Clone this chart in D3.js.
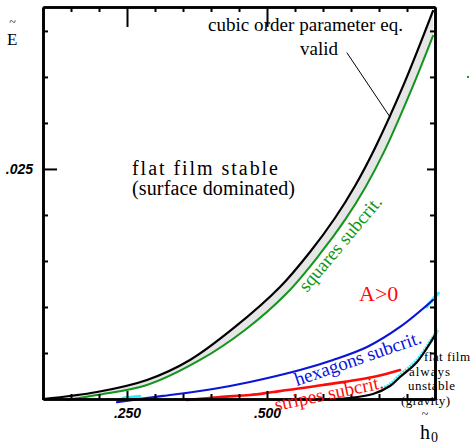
<!DOCTYPE html>
<html>
<head>
<meta charset="utf-8">
<script src="https://cdn.jsdelivr.net/npm/d3@7"></script>
<style>
  body { margin: 0; background: #fff; }
  svg { display: block; }
</style>
</head>
<body>
<script>
// film thickness h0 vs E
var validH = [0.1, 0.1964, 0.2857, 0.3625, 0.4429, 0.5232, 0.5768, 0.6214, 0.6571, 0.6929, 0.7446, 0.7964];
var validE = [0, 0.00076, 0.00207, 0.00424, 0.00783, 0.01217, 0.01598, 0.01967, 0.02315, 0.02728, 0.03424, 0.04217];

var squaresH = [0.1429, 0.1964, 0.2857, 0.3804, 0.4607, 0.5357, 0.5946, 0.6393, 0.675, 0.7107, 0.7607, 0.7964];
var squaresE = [-0.0001, 0.00043, 0.00152, 0.00424, 0.0075, 0.01152, 0.01576, 0.01946, 0.02293, 0.02707, 0.03402, 0.03946];

var hexH = [0.2321, 0.3143, 0.4036, 0.4696, 0.5589, 0.6179, 0.6786, 0.7375, 0.7964];
var hexE = [-0.00033, 0.00033, 0.00109, 0.00185, 0.00315, 0.00424, 0.00565, 0.00783, 0.01076];

var stripesH = [0.3571, 0.4161, 0.4696, 0.5107, 0.6, 0.6893, 0.7375];
var stripesE = [-0.0001, 0.00022, 0.00043, 0.00076, 0.00152, 0.00239, 0.00315];

var gravityH = [0.6125, 0.6482, 0.6893, 0.7196, 0.7375, 0.7679, 0.8];
var gravityE = [0, 0.00011, 0.00054, 0.00141, 0.00239, 0.00402, 0.00696];

// cyan bits that peek out under the other curves
var cyanAH = [0.705, 0.7196, 0.7375, 0.7679, 0.805];
var cyanAE = [0.0011, 0.00158, 0.00258, 0.00422, 0.0075];
var cyanBH = [0.785, 0.8, 0.806];
var cyanBE = [0.0100, 0.0111, 0.0115];
var cyanCH = [0.243, 0.273];
var cyanCE = [0.00012, 0.0003];

var pointerH = [0.6429, 0.7196];
var pointerE = [0.03761, 0.03065];

var strayH = [0.859];
var strayE = [0.035];

var hMinor = [0.15, 0.2, 0.3, 0.35, 0.4, 0.45, 0.55, 0.6, 0.65, 0.7, 0.75];
var hMajor = [0.25, 0.5];
var eMinor = [0.005, 0.01, 0.015, 0.02, 0.03, 0.035, 0.04];
var eMajor = [0.025];

window.onload = function() {
	var svg = d3.select("body").append("svg")
		.attr("width", 472)
		.attr("height", 444);

	var x = d3.scaleLinear().domain([0.1, 0.8]).range([43, 435]);
	var y = d3.scaleLinear().domain([0, 0.0426]).range([399, 7]);

	var line = d3.line()
		.x(function(d) { return x(d[0]); })
		.y(function(d) { return y(d[1]); })
		.curve(d3.curveCatmullRom.alpha(0.5));

	function pts(hs, es) {
		return hs.map(function(h, i) { return [h, es[i]]; });
	}

	// shaded band between validity limit and squares line
	var band = line(pts(validH, validE)) +
		line(pts(squaresH, squaresE).reverse()).replace(/^M/, "L") + "Z";
	svg.append("path").attr("d", band).attr("fill", "#e6e6e6").attr("stroke", "none");

	function curve(hs, es, color, width, dash) {
		svg.append("path")
			.attr("d", line(pts(hs, es)))
			.attr("fill", "none")
			.attr("stroke", color)
			.attr("stroke-width", width)
			.attr("stroke-dasharray", dash || null)
			.attr("stroke-linecap", dash ? "butt" : "round");
	}

	curve(cyanAH, cyanAE, "#30eefa", 3.5, "2,1");
	curve(cyanBH, cyanBE, "#30eefa", 3);
	curve(cyanCH, cyanCE, "#30eefa", 3);
	curve(squaresH, squaresE, "#10961a", 2);
	curve(validH, validE, "#000", 2.2);
	curve(hexH, hexE, "#0a14d8", 2.2);
	curve(stripesH, stripesE, "#ff0a0a", 2.6);
	curve(gravityH, gravityE, "#000", 2.2);
	curve(pointerH, pointerE, "#000", 1);

	svg.append("rect")
		.attr("x", x(strayH[0]) - 1).attr("y", y(strayE[0]) - 1)
		.attr("width", 2).attr("height", 2)
		.attr("fill", "#10961a");

	// frame with ticks on all four sides, pointing inwards
	var fmt = function(d) { return d3.format(".3f")(d).replace(/^0/, ""); };

	function axis(gen, tr, values, size, labels) {
		var g = svg.append("g")
			.attr("transform", tr)
			.call(gen.tickValues(values).tickSize(size).tickSizeOuter(0)
				.tickPadding(labels ? 9 : 0)
				.tickFormat(labels ? fmt : ""));
		g.select(".domain").attr("stroke-width", 2.6);
		g.selectAll(".tick line").attr("stroke-width", 2);
		g.attr("font-family", "Liberation Sans")
			.attr("font-size", 14)
			.attr("font-weight", "bold")
			.attr("font-style", "italic");
		return g;
	}

	axis(d3.axisBottom(x), "translate(0,399)", hMinor, -5, false);
	axis(d3.axisBottom(x), "translate(0,399)", hMajor, -8, true);
	axis(d3.axisTop(x), "translate(0,7)", hMinor, -5, false);
	axis(d3.axisTop(x), "translate(0,7)", hMajor, -20, false);
	axis(d3.axisLeft(y), "translate(43,0)", eMinor, -5, false);
	axis(d3.axisLeft(y), "translate(43,0)", eMajor, -14, true).selectAll("text").attr("dx", -1);
	axis(d3.axisRight(y), "translate(435,0)", eMinor, -5, false);
	axis(d3.axisRight(y), "translate(435,0)", eMajor, -8, false);

	function label(txt, px, py, size, color, opts) {
		opts = opts || {};
		var t = svg.append("text")
			.attr("x", px).attr("y", py)
			.attr("font-family", "'Liberation Serif', 'Times New Roman', serif")
			.attr("font-size", size)
			.attr("fill", color)
			.text(txt);
		if (opts.len) t.attr("textLength", opts.len).attr("lengthAdjust", "spacing");
		if (opts.rot) t.attr("transform", "rotate(" + opts.rot + "," + px + "," + py + ")");
		if (opts.anchor) t.attr("text-anchor", opts.anchor);
		return t;
	}

	label("cubic order parameter eq.", 208, 31, 19, "#000", {len: 195});
	label("valid", 300, 55, 19, "#000");
	label("flat film stable", 132, 175, 20, "#000", {len: 146});
	label("(surface dominated)", 132, 195, 20, "#000", {len: 163});
	label("squares subcrit.", 307, 293, 19, "#10961a", {rot: -50});
	label("A>0", 359, 301, 22, "#ff0a0a");
	label("hexagons subcrit.", 297, 386, 19, "#0a14d8", {rot: -19});
	label("stripes subcrit.", 276, 411, 19, "#ff0a0a", {rot: -12});
	label("flat film", 424, 361, 13, "#000", {len: 46});
	label("always", 409, 375.5, 13, "#000", {len: 41});
	label("unstable", 408, 390, 13, "#000", {len: 47});
	label("(gravity)", 401, 404.5, 13, "#000", {len: 49});

	// axis titles with tildes
	label("~", 12.5, 26, 12, "#000", {anchor: "middle"});
	label("E", 7, 45, 17, "#000");
	label("~", 425, 418, 12, "#000", {anchor: "middle"});
	label("h", 420, 439, 20, "#000");
	label("0", 431, 442, 14, "#000");
};
</script>
</body>
</html>
